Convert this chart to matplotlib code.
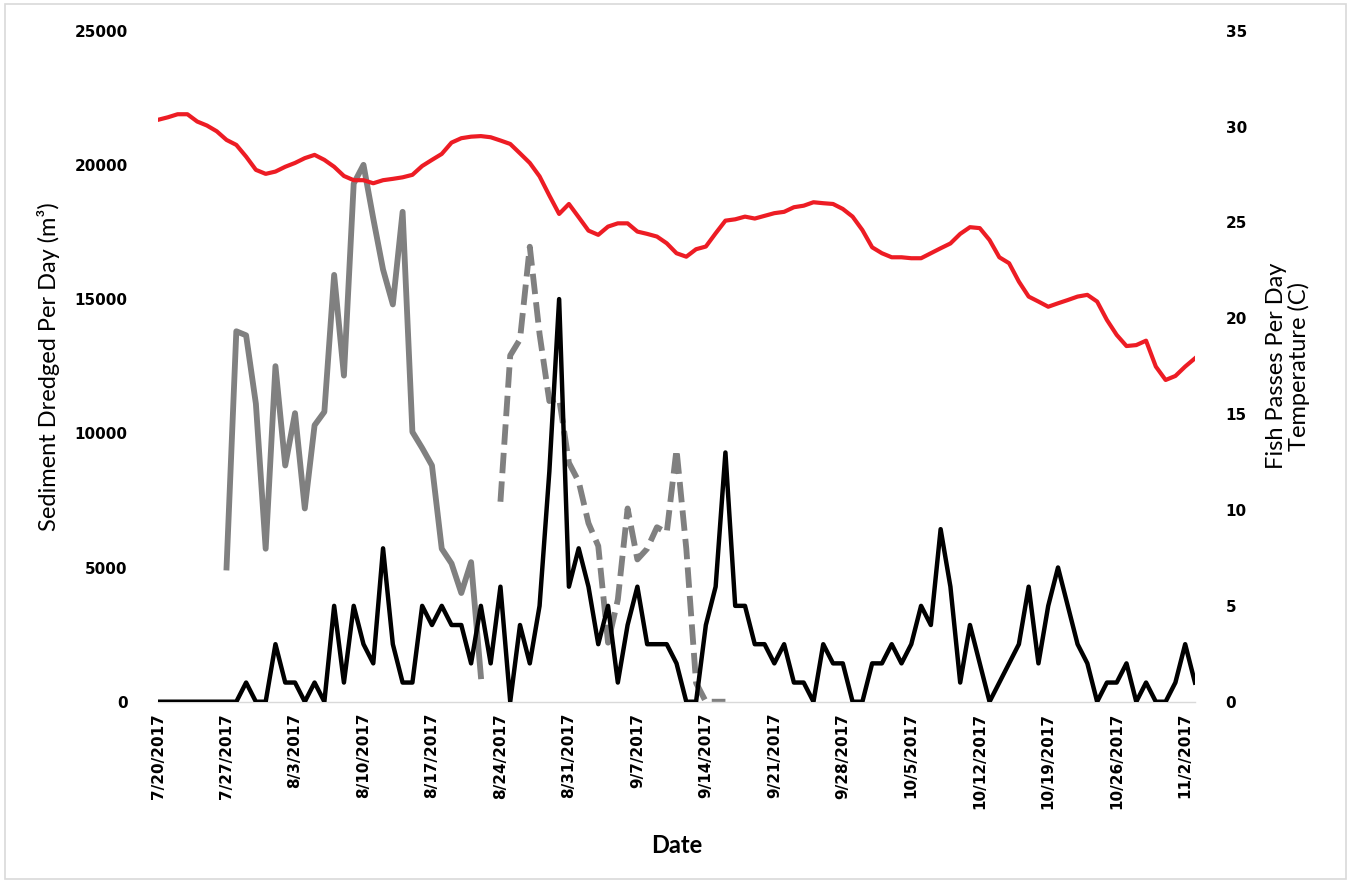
import numpy as np
import pandas as pd
import matplotlib
matplotlib.use("Agg")
import matplotlib.pyplot as plt
from matplotlib.patches import Rectangle

nan = np.nan

# daily dates, 7/20/2017 .. 11/3/2017
dates = pd.date_range("2017-07-20", periods=107, freq="D")

# temperature (C), right axis
temperature = [30.35, 30.48, 30.64, 30.64, 30.26, 30.05, 29.75, 29.3, 29.04, 28.43,
               27.74, 27.53, 27.65, 27.9, 28.1, 28.35, 28.52, 28.26, 27.9, 27.42,
               27.2, 27.2, 27.04, 27.2, 27.27, 27.35, 27.48, 27.94, 28.26, 28.57,
               29.16, 29.39, 29.47, 29.5, 29.44, 29.27, 29.09, 28.6, 28.1, 27.4,
               26.4, 25.44, 25.96, 25.27, 24.57, 24.35, 24.78, 24.95, 24.95, 24.52,
               24.4, 24.26, 23.91, 23.39, 23.21, 23.6, 23.74, 24.43, 25.09, 25.16,
               25.3, 25.2, 25.34, 25.48, 25.55, 25.79, 25.87, 26.05, 26.0, 25.96,
               25.7, 25.3, 24.6, 23.7, 23.39, 23.18, 23.18, 23.13, 23.13, 23.39,
               23.65, 23.9, 24.4, 24.75, 24.7, 24.08, 23.18, 22.87, 21.91, 21.13,
               20.87, 20.6, 20.78, 20.95, 21.13, 21.22, 20.87, 19.91, 19.13, 18.55,
               18.6, 18.83, 17.48, 16.78, 16.99, 17.48, 17.91]

# fish passes per day, right axis
fish_passes = [0, 0, 0, 0, 0, 0, 0, 0, 0, 1,
               0, 0, 3, 1, 1, 0, 1, 0, 5, 1,
               5, 3, 2, 8, 3, 1, 1, 5, 4, 5,
               4, 4, 2, 5, 2, 6, 0, 4, 2, 5,
               12, 21, 6, 8, 6, 3, 5, 1, 4, 6,
               3, 3, 3, 2, 0, 0, 4, 6, 13, 5,
               5, 3, 3, 2, 3, 1, 1, 0, 3, 2,
               2, 0, 0, 2, 2, 3, 2, 3, 5, 4,
               9, 6, 1, 4, 2, 0, 1, 2, 3, 6,
               2, 5, 7, 5, 3, 2, 0, 1, 1, 2,
               0, 1, 0, 0, 1, 3, 1]

# sediment dredged (m3), left axis - first dredging period (solid)
sediment_1 = [nan] * 7 + [5000, 13800, 13650, 11100, 5700, 12500, 8800, 10750, 7200, 10300,
                          10800, 15900, 12150, 19300, 20000, 18000, 16100, 14800, 18250, 10050,
                          9450, 8800, 5700, 5150, 4050, 5200, 950] + [nan] * 73

# second dredging period (dashed)
sediment_2 = [nan] * 35 + [7450, 12900, 13500, 16950, 13700, 11200, 11300, 8900, 8200, 6650,
                           5800, 2200, 3800, 7200, 5300, 5700, 6500, 6300, 9400, 5700,
                           700, 0, 0, 0] + [nan] * 48

sediment_1 = np.array(sediment_1, dtype=float)
sediment_2 = np.array(sediment_2, dtype=float)

tick_font = {"family": "DejaVu Sans", "weight": "bold", "size": 11}
title_family = ["Lato", "DejaVu Sans"]

fig = plt.figure(figsize=(13.51, 8.83), dpi=100)
ax = fig.add_axes([0.117, 0.2053, 0.7675, 0.76])
ax2 = ax.twinx()

ax.plot(dates, sediment_1, color="#808080", lw=4.2, solid_joinstyle="round")
ax.plot(dates, sediment_2, color="#808080", lw=4.2, linestyle=(0, (3.5, 1.4)))
ax2.plot(dates, temperature, color="#ED1C24", lw=3.0, solid_joinstyle="round")
ax2.plot(dates, fish_passes, color="black", lw=3.2, solid_joinstyle="round")

ax.set_xlim(dates[0], dates[-1])
ax.set_ylim(0, 25000)
ax2.set_ylim(0, 35)
ax.set_yticks(range(0, 25001, 5000))
ax2.set_yticks(range(0, 36, 5))

ticks = dates[::7]
ax.set_xticks(ticks)
ax.set_xticklabels([f"{d.month}/{d.day}/{d.year}" for d in ticks], rotation=90,
                   ha="center", va="top", fontdict=tick_font)
ax.set_yticklabels([str(v) for v in range(0, 25001, 5000)], fontdict=tick_font)
ax2.set_yticklabels([str(v) for v in range(0, 36, 5)], fontdict=tick_font)

for a in (ax, ax2):
    for s in a.spines.values():
        s.set_visible(False)
    a.tick_params(length=0)
ax.spines["bottom"].set_visible(True)
ax.spines["bottom"].set_color("#D9D9D9")
ax.spines["bottom"].set_linewidth(1.0)
ax.tick_params(axis="x", pad=8)
ax.tick_params(axis="y", pad=22)
ax2.tick_params(axis="y", pad=22)

ax.set_ylabel("Sediment Dredged Per Day (m³)", family=title_family, fontsize=17, labelpad=10)
ax2.set_ylabel("Fish Passes Per Day\nTemperature (C)", family=title_family, fontsize=17,
               labelpad=14, linespacing=1.05)
ax.set_xlabel("Date", family=title_family, fontsize=17, fontweight="bold", labelpad=18)

# light chart border like the spreadsheet chart area
fig.patches.append(Rectangle((0.004, 0.004), 0.992, 0.992, transform=fig.transFigure,
                             fill=False, edgecolor="#D9D9D9", lw=1.2))

fig.savefig("out.png", dpi=100)
